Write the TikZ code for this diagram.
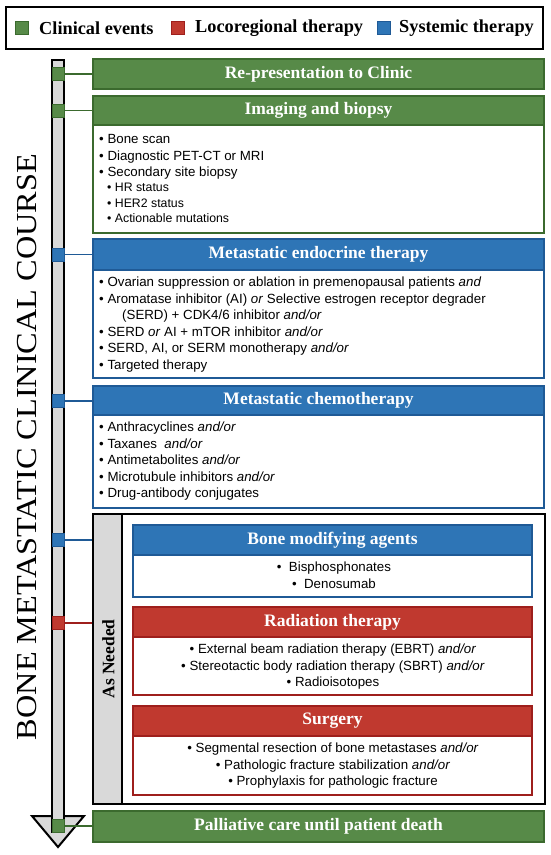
\documentclass[tikz,border=0pt]{standalone}
\usepackage{fontspec}
\setmainfont{Liberation Serif}
\setsansfont{Liberation Sans}
\definecolor{gfill}{HTML}{578A48}
\definecolor{gline}{HTML}{3B6A2E}
\definecolor{bfill}{HTML}{2E75B6}
\definecolor{bline}{HTML}{1F5A96}
\definecolor{rfill}{HTML}{C0392F}
\definecolor{rline}{HTML}{9E1F1C}
\definecolor{barfill}{HTML}{D9D9D9}
\newcommand{\hdrfont}{\bfseries\fontsize{17.5}{20}\selectfont}
\tikzset{
  hdr/.style={draw=#1line, fill=#1fill, line width=1.6pt, text=white, font=\hdrfont, inner sep=0pt},
  bodybox/.style={draw=#1line, fill=white, line width=1.8pt, inner sep=0pt},
  marker/.style={draw=#1line, fill=#1fill, line width=0.8pt, minimum width=12pt, minimum height=13pt, inner sep=0pt},
  conn/.style={draw=#1line, line width=1.3pt},
  btext/.style={font=\sffamily\fontsize{13.3}{16.6}\selectfont, inner sep=0pt},
  stext/.style={font=\sffamily\fontsize{12.3}{15.5}\selectfont, inner sep=0pt},
  legsq/.style={draw=#1line, fill=#1fill, line width=0.6pt, minimum size=13pt, inner sep=0pt},
  legtext/.style={font=\bfseries\fontsize{18.3}{20}\selectfont, anchor=west, inner sep=0pt},
}
\begin{document}
\begin{tikzpicture}[x=1pt,y=-1pt]
\useasboundingbox (0,0) rectangle (550,855);
% legend
\node[draw=black, line width=2.5pt, minimum width=537pt, minimum height=42pt, inner sep=0pt] (legend) at (274.5,28) {};
\node[legsq=g] (lg) at (21.5,28) {};
\node[legtext] (lgt) at (39,28) {Clinical events};
\node[legsq=r] (lr) at (178,28) {};
\node[legtext] (lrt) at (195,28) {Locoregional therapy};
\node[legsq=b] (lb) at (384,28) {};
\node[legtext] (lbt) at (399,28) {Systemic therapy};
% title
\node[rotate=90, inner sep=0pt, font=\fontsize{29}{30}\selectfont] (title) at (27.5,447) {\scalebox{1.114}[1]{BONE METASTATIC CLINICAL COURSE}};
% timeline arrow
\draw[draw=black, fill=barfill, line width=2pt, line join=miter] (32,816) -- (84,816) -- (58,847) -- cycle;
\node[draw=black, fill=barfill, line width=2pt, minimum width=12pt, minimum height=772pt, inner sep=0pt] (bar) at (58,446) {};
% markers
\node[marker=g] (m1) at (58,74) {};
\node[marker=g] (m2) at (58,110.5) {};
\node[marker=b] (m3) at (58,254.5) {};
\node[marker=b] (m4) at (58,401) {};
\node[marker=b] (m5) at (58,540) {};
\node[marker=r] (m6) at (58,623) {};
\node[marker=g] (m7) at (58,826) {};
% Re-presentation
\node[hdr=g, minimum width=451pt, minimum height=30pt] (rep) at (318.5,74) {Re-presentation to Clinic};
% Imaging
\node[bodybox=g, minimum width=451pt, minimum height=137pt] (imgbody) at (318.5,164.5) {};
\node[hdr=g, minimum width=451pt, minimum height=29pt] (img) at (318.5,110.5) {Imaging and biopsy};
\node[btext, anchor=base west] (imgtxt) at (99,143.5) {\parbox[t]{430pt}{\raggedright
• Bone scan\\
• Diagnostic PET-CT or MRI\\
• Secondary site biopsy}};
\node[stext, anchor=base west] (imgsub) at (107,191.5) {\parbox[t]{420pt}{\raggedright
• HR status\\
• HER2 status\\
• Actionable mutations}};
% Endocrine
\node[bodybox=b, minimum width=451pt, minimum height=139pt] (endbody) at (318.5,308.5) {};
\node[hdr=b, minimum width=451pt, minimum height=31pt] (endo) at (318.5,254.5) {Metastatic endocrine therapy};
\node[btext, anchor=base west] (endtxt) at (99,286.5) {\parbox[t]{440pt}{\raggedright
• Ovarian suppression or ablation in premenopausal patients \textit{and}\\
• Aromatase inhibitor (AI) \textit{or} Selective estrogen receptor degrader\\
\hspace*{23pt}(SERD) + CDK4/6 inhibitor \textit{and/or}\\
• SERD \textit{or} AI + mTOR inhibitor \textit{and/or}\\
• SERD, AI, or SERM monotherapy \textit{and/or}\\
• Targeted therapy}};
% Chemo
\node[bodybox=b, minimum width=451pt, minimum height=122pt] (chbody) at (318.5,447) {};
\node[hdr=b, minimum width=451pt, minimum height=29pt] (chemo) at (318.5,400.5) {Metastatic chemotherapy};
\node[btext, anchor=base west] (chtxt) at (99,431.5) {\parbox[t]{440pt}{\raggedright
• Anthracyclines \textit{and/or}\\
• Taxanes \ \textit{and/or}\\
• Antimetabolites \textit{and/or}\\
• Microtubule inhibitors \textit{and/or}\\
• Drug-antibody conjugates}};
% As needed
\node[draw=black, fill=white, line width=2pt, minimum width=452pt, minimum height=290pt, inner sep=0pt] (asneeded) at (319,659) {};
\node[draw=black, fill=barfill, line width=2pt, minimum width=29pt, minimum height=290pt, inner sep=0pt] (strip) at (107.5,659) {};
\node[rotate=90, inner sep=0pt, font=\bfseries\fontsize{17.5}{19}\selectfont] (astext) at (108.5,659) {As Needed};
% Bone modifying
\node[bodybox=b, minimum width=399pt, minimum height=72pt] (bmbody) at (332.5,561) {};
\node[hdr=b, minimum width=399pt, minimum height=30pt] (bm) at (332.5,540) {Bone modifying agents};
\node[btext, anchor=base] (bmtxt) at (334,571.5) {\parbox[t]{390pt}{\centering
•\hspace{0.55em}Bisphosphonates\\
•\hspace{0.55em}Denosumab}};
% Radiation
\node[bodybox=r, minimum width=399pt, minimum height=88pt] (rtbody) at (332.5,651) {};
\node[hdr=r, minimum width=399pt, minimum height=30pt] (rt) at (332.5,622) {Radiation therapy};
\node[btext, anchor=base] (rttxt) at (333,653.5) {\parbox[t]{390pt}{\centering
• External beam radiation therapy (EBRT) \textit{and/or}\\
• Stereotactic body radiation therapy (SBRT) \textit{and/or}\\
• Radioisotopes}};
% Surgery
\node[bodybox=r, minimum width=399pt, minimum height=89pt] (sgbody) at (332.5,750.5) {};
\node[hdr=r, minimum width=399pt, minimum height=30pt] (sg) at (332.5,721) {Surgery};
\node[btext, anchor=base] (sgtxt) at (333,752.5) {\parbox[t]{390pt}{\centering
• Segmental resection of bone metastases \textit{and/or}\\
• Pathologic fracture stabilization \textit{and/or}\\
• Prophylaxis for pathologic fracture}};
% Palliative
\node[hdr=g, minimum width=451pt, minimum height=31pt] (pal) at (318.5,826.5) {Palliative care until patient death};
% connectors
\draw[conn=g] (m1.east) -- (m1.east -| rep.west);
\draw[conn=g] (m2.east) -- (m2.east -| img.west);
\draw[conn=b] (m3.east) -- (m3.east -| endo.west);
\draw[conn=b] (m4.east) -- (m4.east -| chemo.west);
\draw[conn=b] (m5.east) -- (m5.east -| asneeded.west);
\draw[conn=r] (m6.east) -- (m6.east -| asneeded.west);
\draw[conn=g] (m7.east) -- (m7.east -| pal.west);
\end{tikzpicture}
\end{document}
